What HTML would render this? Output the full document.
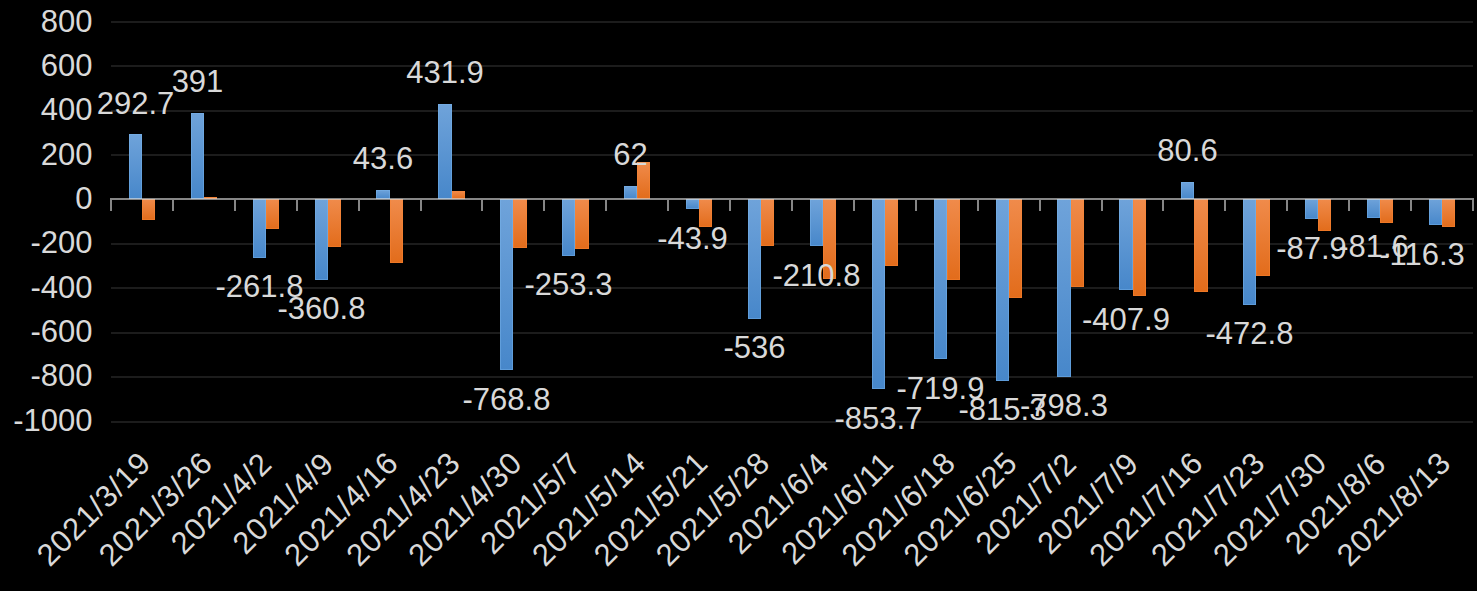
<!DOCTYPE html><html><head><meta charset="utf-8"><style>html,body{margin:0;padding:0;background:#000;width:1477px;height:591px;overflow:hidden}</style></head><body><svg width="1477" height="591" viewBox="0 0 1477 591" style="display:block">
<defs>
<linearGradient id="gb" x1="0" y1="0" x2="0" y2="1"><stop offset="0" stop-color="#6fa3da"/><stop offset="1" stop-color="#4787ca"/></linearGradient>
<linearGradient id="go" x1="0" y1="0" x2="0" y2="1"><stop offset="0" stop-color="#f08b4b"/><stop offset="1" stop-color="#e26c1b"/></linearGradient>
</defs>
<rect width="1477" height="591" fill="#000"/>
<rect x="111" y="21" width="1362" height="2" fill="#1c1c1c"/>
<rect x="111" y="65" width="1362" height="2" fill="#1c1c1c"/>
<rect x="111" y="110" width="1362" height="2" fill="#1c1c1c"/>
<rect x="111" y="154" width="1362" height="2" fill="#1c1c1c"/>
<rect x="111" y="243" width="1362" height="2" fill="#1c1c1c"/>
<rect x="111" y="287" width="1362" height="2" fill="#1c1c1c"/>
<rect x="111" y="332" width="1362" height="2" fill="#1c1c1c"/>
<rect x="111" y="376" width="1362" height="2" fill="#1c1c1c"/>
<rect x="111" y="421" width="1362" height="2" fill="#1c1c1c"/>
<rect x="129" y="134" width="13" height="65" fill="url(#gb)"/>
<rect x="129.5" y="134.5" width="12" height="64" fill="none" stroke="#7ab5ee" stroke-width="1" opacity="0.45"/>
<rect x="142" y="199" width="13" height="21" fill="url(#go)"/>
<rect x="142.5" y="199.5" width="12" height="20" fill="none" stroke="#fb8533" stroke-width="1" opacity="0.45"/>
<rect x="191" y="113" width="13" height="86" fill="url(#gb)"/>
<rect x="191.5" y="113.5" width="12" height="85" fill="none" stroke="#7ab5ee" stroke-width="1" opacity="0.45"/>
<rect x="204" y="197" width="13" height="2" fill="url(#go)"/>
<rect x="204.5" y="197.5" width="12" height="1" fill="none" stroke="#fb8533" stroke-width="1" opacity="0.45"/>
<rect x="253" y="199" width="13" height="59" fill="url(#gb)"/>
<rect x="253.5" y="199.5" width="12" height="58" fill="none" stroke="#7ab5ee" stroke-width="1" opacity="0.45"/>
<rect x="266" y="199" width="13" height="30" fill="url(#go)"/>
<rect x="266.5" y="199.5" width="12" height="29" fill="none" stroke="#fb8533" stroke-width="1" opacity="0.45"/>
<rect x="315" y="199" width="13" height="81" fill="url(#gb)"/>
<rect x="315.5" y="199.5" width="12" height="80" fill="none" stroke="#7ab5ee" stroke-width="1" opacity="0.45"/>
<rect x="328" y="199" width="13" height="48" fill="url(#go)"/>
<rect x="328.5" y="199.5" width="12" height="47" fill="none" stroke="#fb8533" stroke-width="1" opacity="0.45"/>
<rect x="376" y="190" width="14" height="9" fill="url(#gb)"/>
<rect x="376.5" y="190.5" width="13" height="8" fill="none" stroke="#7ab5ee" stroke-width="1" opacity="0.45"/>
<rect x="390" y="199" width="13" height="64" fill="url(#go)"/>
<rect x="390.5" y="199.5" width="12" height="63" fill="none" stroke="#fb8533" stroke-width="1" opacity="0.45"/>
<rect x="438" y="104" width="14" height="95" fill="url(#gb)"/>
<rect x="438.5" y="104.5" width="13" height="94" fill="none" stroke="#7ab5ee" stroke-width="1" opacity="0.45"/>
<rect x="452" y="191" width="13" height="8" fill="url(#go)"/>
<rect x="452.5" y="191.5" width="12" height="7" fill="none" stroke="#fb8533" stroke-width="1" opacity="0.45"/>
<rect x="500" y="199" width="13" height="171" fill="url(#gb)"/>
<rect x="500.5" y="199.5" width="12" height="170" fill="none" stroke="#7ab5ee" stroke-width="1" opacity="0.45"/>
<rect x="513" y="199" width="14" height="49" fill="url(#go)"/>
<rect x="513.5" y="199.5" width="13" height="48" fill="none" stroke="#fb8533" stroke-width="1" opacity="0.45"/>
<rect x="562" y="199" width="13" height="57" fill="url(#gb)"/>
<rect x="562.5" y="199.5" width="12" height="56" fill="none" stroke="#7ab5ee" stroke-width="1" opacity="0.45"/>
<rect x="575" y="199" width="14" height="50" fill="url(#go)"/>
<rect x="575.5" y="199.5" width="13" height="49" fill="none" stroke="#fb8533" stroke-width="1" opacity="0.45"/>
<rect x="624" y="186" width="13" height="13" fill="url(#gb)"/>
<rect x="624.5" y="186.5" width="12" height="12" fill="none" stroke="#7ab5ee" stroke-width="1" opacity="0.45"/>
<rect x="637" y="162" width="13" height="37" fill="url(#go)"/>
<rect x="637.5" y="162.5" width="12" height="36" fill="none" stroke="#fb8533" stroke-width="1" opacity="0.45"/>
<rect x="686" y="199" width="13" height="10" fill="url(#gb)"/>
<rect x="686.5" y="199.5" width="12" height="9" fill="none" stroke="#7ab5ee" stroke-width="1" opacity="0.45"/>
<rect x="699" y="199" width="13" height="28" fill="url(#go)"/>
<rect x="699.5" y="199.5" width="12" height="27" fill="none" stroke="#fb8533" stroke-width="1" opacity="0.45"/>
<rect x="748" y="199" width="13" height="120" fill="url(#gb)"/>
<rect x="748.5" y="199.5" width="12" height="119" fill="none" stroke="#7ab5ee" stroke-width="1" opacity="0.45"/>
<rect x="761" y="199" width="13" height="47" fill="url(#go)"/>
<rect x="761.5" y="199.5" width="12" height="46" fill="none" stroke="#fb8533" stroke-width="1" opacity="0.45"/>
<rect x="810" y="199" width="13" height="47" fill="url(#gb)"/>
<rect x="810.5" y="199.5" width="12" height="46" fill="none" stroke="#7ab5ee" stroke-width="1" opacity="0.45"/>
<rect x="823" y="199" width="13" height="80" fill="url(#go)"/>
<rect x="823.5" y="199.5" width="12" height="79" fill="none" stroke="#fb8533" stroke-width="1" opacity="0.45"/>
<rect x="872" y="199" width="13" height="190" fill="url(#gb)"/>
<rect x="872.5" y="199.5" width="12" height="189" fill="none" stroke="#7ab5ee" stroke-width="1" opacity="0.45"/>
<rect x="885" y="199" width="13" height="67" fill="url(#go)"/>
<rect x="885.5" y="199.5" width="12" height="66" fill="none" stroke="#fb8533" stroke-width="1" opacity="0.45"/>
<rect x="934" y="199" width="13" height="160" fill="url(#gb)"/>
<rect x="934.5" y="199.5" width="12" height="159" fill="none" stroke="#7ab5ee" stroke-width="1" opacity="0.45"/>
<rect x="947" y="199" width="13" height="81" fill="url(#go)"/>
<rect x="947.5" y="199.5" width="12" height="80" fill="none" stroke="#fb8533" stroke-width="1" opacity="0.45"/>
<rect x="996" y="199" width="13" height="182" fill="url(#gb)"/>
<rect x="996.5" y="199.5" width="12" height="181" fill="none" stroke="#7ab5ee" stroke-width="1" opacity="0.45"/>
<rect x="1009" y="199" width="13" height="99" fill="url(#go)"/>
<rect x="1009.5" y="199.5" width="12" height="98" fill="none" stroke="#fb8533" stroke-width="1" opacity="0.45"/>
<rect x="1057" y="199" width="14" height="178" fill="url(#gb)"/>
<rect x="1057.5" y="199.5" width="13" height="177" fill="none" stroke="#7ab5ee" stroke-width="1" opacity="0.45"/>
<rect x="1071" y="199" width="13" height="88" fill="url(#go)"/>
<rect x="1071.5" y="199.5" width="12" height="87" fill="none" stroke="#fb8533" stroke-width="1" opacity="0.45"/>
<rect x="1119" y="199" width="14" height="91" fill="url(#gb)"/>
<rect x="1119.5" y="199.5" width="13" height="90" fill="none" stroke="#7ab5ee" stroke-width="1" opacity="0.45"/>
<rect x="1133" y="199" width="13" height="97" fill="url(#go)"/>
<rect x="1133.5" y="199.5" width="12" height="96" fill="none" stroke="#fb8533" stroke-width="1" opacity="0.45"/>
<rect x="1181" y="182" width="13" height="17" fill="url(#gb)"/>
<rect x="1181.5" y="182.5" width="12" height="16" fill="none" stroke="#7ab5ee" stroke-width="1" opacity="0.45"/>
<rect x="1194" y="199" width="14" height="93" fill="url(#go)"/>
<rect x="1194.5" y="199.5" width="13" height="92" fill="none" stroke="#fb8533" stroke-width="1" opacity="0.45"/>
<rect x="1243" y="199" width="13" height="106" fill="url(#gb)"/>
<rect x="1243.5" y="199.5" width="12" height="105" fill="none" stroke="#7ab5ee" stroke-width="1" opacity="0.45"/>
<rect x="1256" y="199" width="14" height="77" fill="url(#go)"/>
<rect x="1256.5" y="199.5" width="13" height="76" fill="none" stroke="#fb8533" stroke-width="1" opacity="0.45"/>
<rect x="1305" y="199" width="13" height="20" fill="url(#gb)"/>
<rect x="1305.5" y="199.5" width="12" height="19" fill="none" stroke="#7ab5ee" stroke-width="1" opacity="0.45"/>
<rect x="1318" y="199" width="13" height="32" fill="url(#go)"/>
<rect x="1318.5" y="199.5" width="12" height="31" fill="none" stroke="#fb8533" stroke-width="1" opacity="0.45"/>
<rect x="1367" y="199" width="13" height="19" fill="url(#gb)"/>
<rect x="1367.5" y="199.5" width="12" height="18" fill="none" stroke="#7ab5ee" stroke-width="1" opacity="0.45"/>
<rect x="1380" y="199" width="13" height="24" fill="url(#go)"/>
<rect x="1380.5" y="199.5" width="12" height="23" fill="none" stroke="#fb8533" stroke-width="1" opacity="0.45"/>
<rect x="1429" y="199" width="13" height="26" fill="url(#gb)"/>
<rect x="1429.5" y="199.5" width="12" height="25" fill="none" stroke="#7ab5ee" stroke-width="1" opacity="0.45"/>
<rect x="1442" y="199" width="13" height="28" fill="url(#go)"/>
<rect x="1442.5" y="199.5" width="12" height="27" fill="none" stroke="#fb8533" stroke-width="1" opacity="0.45"/>
<rect x="110" y="198" width="1364" height="2" fill="#d9d9d9" fill-opacity="0.62"/>
<rect x="110" y="200" width="2" height="11" fill="#d9d9d9" fill-opacity="0.62"/>
<rect x="172" y="200" width="2" height="11" fill="#d9d9d9" fill-opacity="0.62"/>
<rect x="234" y="200" width="2" height="11" fill="#d9d9d9" fill-opacity="0.62"/>
<rect x="296" y="200" width="2" height="11" fill="#d9d9d9" fill-opacity="0.62"/>
<rect x="358" y="200" width="2" height="11" fill="#d9d9d9" fill-opacity="0.62"/>
<rect x="420" y="200" width="2" height="11" fill="#d9d9d9" fill-opacity="0.62"/>
<rect x="481" y="200" width="2" height="11" fill="#d9d9d9" fill-opacity="0.62"/>
<rect x="543" y="200" width="2" height="11" fill="#d9d9d9" fill-opacity="0.62"/>
<rect x="605" y="200" width="2" height="11" fill="#d9d9d9" fill-opacity="0.62"/>
<rect x="667" y="200" width="2" height="11" fill="#d9d9d9" fill-opacity="0.62"/>
<rect x="729" y="200" width="2" height="11" fill="#d9d9d9" fill-opacity="0.62"/>
<rect x="791" y="200" width="2" height="11" fill="#d9d9d9" fill-opacity="0.62"/>
<rect x="853" y="200" width="2" height="11" fill="#d9d9d9" fill-opacity="0.62"/>
<rect x="915" y="200" width="2" height="11" fill="#d9d9d9" fill-opacity="0.62"/>
<rect x="977" y="200" width="2" height="11" fill="#d9d9d9" fill-opacity="0.62"/>
<rect x="1039" y="200" width="2" height="11" fill="#d9d9d9" fill-opacity="0.62"/>
<rect x="1101" y="200" width="2" height="11" fill="#d9d9d9" fill-opacity="0.62"/>
<rect x="1162" y="200" width="2" height="11" fill="#d9d9d9" fill-opacity="0.62"/>
<rect x="1224" y="200" width="2" height="11" fill="#d9d9d9" fill-opacity="0.62"/>
<rect x="1286" y="200" width="2" height="11" fill="#d9d9d9" fill-opacity="0.62"/>
<rect x="1348" y="200" width="2" height="11" fill="#d9d9d9" fill-opacity="0.62"/>
<rect x="1410" y="200" width="2" height="11" fill="#d9d9d9" fill-opacity="0.62"/>
<rect x="1472" y="200" width="2" height="11" fill="#d9d9d9" fill-opacity="0.62"/>
<g font-family="Liberation Sans" font-size="31" fill="#d9d9d9">
<text x="92.5" y="31.5" text-anchor="end">800</text>
<text x="92.5" y="75.8" text-anchor="end">600</text>
<text x="92.5" y="120.2" text-anchor="end">400</text>
<text x="92.5" y="164.5" text-anchor="end">200</text>
<text x="92.5" y="208.8" text-anchor="end">0</text>
<text x="92.5" y="253.1" text-anchor="end">-200</text>
<text x="92.5" y="297.5" text-anchor="end">-400</text>
<text x="92.5" y="341.8" text-anchor="end">-600</text>
<text x="92.5" y="386.1" text-anchor="end">-800</text>
<text x="92.5" y="430.5" text-anchor="end">-1000</text>
<text x="135.5" y="114.0" text-anchor="middle">292.7</text>
<text x="197.5" y="92.1" text-anchor="middle">391</text>
<text x="259.5" y="297.2" text-anchor="middle">-261.8</text>
<text x="321.5" y="319.2" text-anchor="middle">-360.8</text>
<text x="383.0" y="169.3" text-anchor="middle">43.6</text>
<text x="445.0" y="83.0" text-anchor="middle">431.9</text>
<text x="506.5" y="409.8" text-anchor="middle">-768.8</text>
<text x="568.5" y="295.3" text-anchor="middle">-253.3</text>
<text x="630.5" y="165.2" text-anchor="middle">62</text>
<text x="692.5" y="248.8" text-anchor="middle">-43.9</text>
<text x="754.5" y="358.1" text-anchor="middle">-536</text>
<text x="816.5" y="285.8" text-anchor="middle">-210.8</text>
<text x="878.5" y="428.7" text-anchor="middle">-853.7</text>
<text x="940.5" y="399.0" text-anchor="middle">-719.9</text>
<text x="1002.5" y="420.2" text-anchor="middle">-815.3</text>
<text x="1064.0" y="416.4" text-anchor="middle">-798.3</text>
<text x="1126.0" y="329.6" text-anchor="middle">-407.9</text>
<text x="1187.5" y="161.1" text-anchor="middle">80.6</text>
<text x="1249.5" y="344.1" text-anchor="middle">-472.8</text>
<text x="1311.5" y="258.5" text-anchor="middle">-87.9</text>
<text x="1373.5" y="257.1" text-anchor="middle">-81.6</text>
<text x="1422.0" y="264.8" text-anchor="middle">-116.3</text>
<text transform="translate(152.7,464.7) rotate(-45)" text-anchor="end" letter-spacing="0.85">2021/3/19</text>
<text transform="translate(214.6,464.7) rotate(-45)" text-anchor="end" letter-spacing="0.85">2021/3/26</text>
<text transform="translate(273.8,465.5) rotate(-45)" text-anchor="end" letter-spacing="0.85">2021/4/2</text>
<text transform="translate(335.7,465.5) rotate(-45)" text-anchor="end" letter-spacing="0.85">2021/4/9</text>
<text transform="translate(400.3,464.7) rotate(-45)" text-anchor="end" letter-spacing="0.85">2021/4/16</text>
<text transform="translate(462.2,464.7) rotate(-45)" text-anchor="end" letter-spacing="0.85">2021/4/23</text>
<text transform="translate(524.1,464.7) rotate(-45)" text-anchor="end" letter-spacing="0.85">2021/4/30</text>
<text transform="translate(583.3,465.5) rotate(-45)" text-anchor="end" letter-spacing="0.85">2021/5/7</text>
<text transform="translate(647.9,464.7) rotate(-45)" text-anchor="end" letter-spacing="0.85">2021/5/14</text>
<text transform="translate(709.8,464.7) rotate(-45)" text-anchor="end" letter-spacing="0.85">2021/5/21</text>
<text transform="translate(771.7,464.7) rotate(-45)" text-anchor="end" letter-spacing="0.85">2021/5/28</text>
<text transform="translate(831.0,465.5) rotate(-45)" text-anchor="end" letter-spacing="0.85">2021/6/4</text>
<text transform="translate(895.6,464.7) rotate(-45)" text-anchor="end" letter-spacing="0.85">2021/6/11</text>
<text transform="translate(957.5,464.7) rotate(-45)" text-anchor="end" letter-spacing="0.85">2021/6/18</text>
<text transform="translate(1019.4,464.7) rotate(-45)" text-anchor="end" letter-spacing="0.85">2021/6/25</text>
<text transform="translate(1078.6,465.5) rotate(-45)" text-anchor="end" letter-spacing="0.85">2021/7/2</text>
<text transform="translate(1140.5,465.5) rotate(-45)" text-anchor="end" letter-spacing="0.85">2021/7/9</text>
<text transform="translate(1205.1,464.7) rotate(-45)" text-anchor="end" letter-spacing="0.85">2021/7/16</text>
<text transform="translate(1267.0,464.7) rotate(-45)" text-anchor="end" letter-spacing="0.85">2021/7/23</text>
<text transform="translate(1328.9,464.7) rotate(-45)" text-anchor="end" letter-spacing="0.85">2021/7/30</text>
<text transform="translate(1388.1,465.5) rotate(-45)" text-anchor="end" letter-spacing="0.85">2021/8/6</text>
<text transform="translate(1452.7,464.7) rotate(-45)" text-anchor="end" letter-spacing="0.85">2021/8/13</text>
</g>
</svg></body></html>
